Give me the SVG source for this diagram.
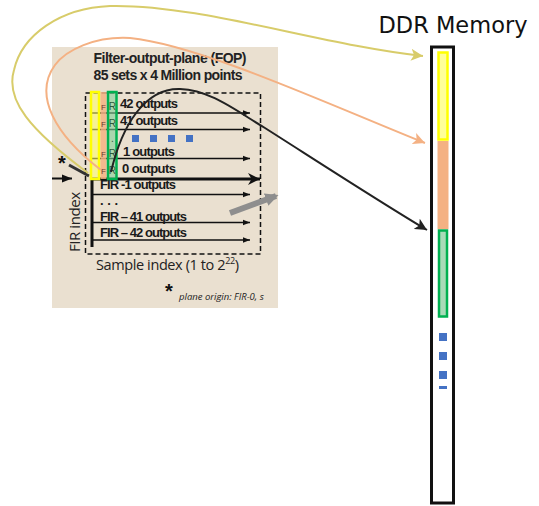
<svg xmlns="http://www.w3.org/2000/svg" width="539" height="506" viewBox="0 0 539 506">
<defs>
<style>
.lbl{font-family:"Liberation Sans",Arial,sans-serif;font-size:13px;font-weight:bold;fill:#1a1a1a}
.ttl{font-family:"Liberation Sans",Arial,sans-serif;font-size:14px;font-weight:bold;fill:#222}
.row{stroke:#111;stroke-width:1.4;fill:none}
.blue{fill:#4472c4}
</style>
<marker id="ah" viewBox="0 0 10 10" refX="10" refY="5" markerWidth="5" markerHeight="5" orient="auto" markerUnits="strokeWidth"><path d="M0,1 L10,5 L0,9 Z" fill="#111"/></marker>
<marker id="ahb" viewBox="0 0 10 10" refX="10" refY="5" markerWidth="4" markerHeight="4" orient="auto" markerUnits="strokeWidth"><path d="M0,0 L10,5 L0,10 L3,5 Z" fill="#111"/></marker>
<marker id="ahy" viewBox="0 0 10 10" refX="10" refY="5" markerWidth="6" markerHeight="6" orient="auto" markerUnits="strokeWidth"><path d="M0,0 L10,5 L0,10 L2.5,5 Z" fill="#d8cc6a"/></marker>
<marker id="aho" viewBox="0 0 10 10" refX="10" refY="5" markerWidth="6" markerHeight="6" orient="auto" markerUnits="strokeWidth"><path d="M0,0 L10,5 L0,10 L2.5,5 Z" fill="#f4b183"/></marker>
<marker id="ahk" viewBox="0 0 10 10" refX="10" refY="5" markerWidth="6" markerHeight="6" orient="auto" markerUnits="strokeWidth"><path d="M0,0 L10,5 L0,10 L2.5,5 Z" fill="#222"/></marker>
<marker id="ahg" viewBox="0 0 10 10" refX="8" refY="5" markerWidth="2.2" markerHeight="2.2" orient="auto" markerUnits="strokeWidth"><path d="M0,0 L10,5 L0,10 Z" fill="#8e8e8e"/></marker>
</defs>
<rect width="539" height="506" fill="#ffffff"/>

<g id="fop-panel">
<rect x="52" y="47" width="226" height="261" fill="#eae0d0"/>
<text x="170" y="63" text-anchor="middle" class="ttl" textLength="153">Filter-output-plane (FOP)</text>
<text x="168" y="80" text-anchor="middle" class="ttl" textLength="149">85 sets x 4 Million points</text>
<rect x="85.5" y="93" width="175" height="161" fill="none" stroke="#111" stroke-width="1.5" stroke-dasharray="5,3"/>
<line x1="92" y1="113" x2="250" y2="113" class="row" marker-end="url(#ah)"/>
<line x1="92" y1="129.5" x2="250" y2="129.5" class="row" marker-end="url(#ah)"/>
<line x1="92" y1="158.5" x2="250" y2="158.5" class="row" marker-end="url(#ah)"/>
<line x1="92" y1="179" x2="260" y2="179" stroke="#111" stroke-width="3" marker-end="url(#ahb)"/>
<line x1="92" y1="194.5" x2="250" y2="194.5" class="row" marker-end="url(#ah)"/>
<line x1="92" y1="222.5" x2="250" y2="222.5" class="row" marker-end="url(#ah)"/>
<line x1="92" y1="240" x2="250" y2="240" class="row" marker-end="url(#ah)"/>
<line x1="92" y1="178" x2="92" y2="247" stroke="#111" stroke-width="3"/>
<text x="120" y="108" class="lbl" textLength="58">42 outputs</text>
<text x="120" y="125" class="lbl" textLength="58">41 outputs</text>
<rect x="132" y="135" width="7" height="7" class="blue"/>
<rect x="150" y="135" width="7" height="7" class="blue"/>
<rect x="168" y="135" width="7" height="7" class="blue"/>
<rect x="186" y="135" width="7" height="7" class="blue"/>
<text x="123" y="156" class="lbl" textLength="52">1 outputs</text>
<text x="122" y="173" class="lbl" textLength="54">0 outputs</text>
<text x="100" y="189" class="lbl" textLength="76">FIR -1 outputs</text>
<text x="100" y="205" class="lbl">. . .</text>
<text x="100" y="221" class="lbl" textLength="87">FIR – 41 outputs</text>
<text x="100" y="237" class="lbl" textLength="87">FIR – 42 outputs</text>
<text transform="translate(80,222) rotate(-90)" text-anchor="middle" font-family="Open Sans,Liberation Sans,Arial,sans-serif" font-size="15" fill="#222" textLength="60">FIR index</text>
<text x="96" y="270" font-family="Open Sans,Liberation Sans,Arial,sans-serif" font-size="14.5" fill="#222" textLength="143">Sample index (1 to 2<tspan font-size="9" dy="-6">22</tspan><tspan dy="6">)</tspan></text>
<text x="62" y="170" text-anchor="middle" font-family="Liberation Sans,Arial,sans-serif" font-size="20" font-weight="bold" fill="#111">*</text>
<line x1="69" y1="165" x2="89" y2="176" stroke="#333" stroke-width="3"/>
<line x1="52" y1="178.5" x2="72" y2="178.5" stroke="#111" stroke-width="2" marker-end="url(#ah)"/>
<text x="169" y="298" text-anchor="middle" font-family="Liberation Sans,Arial,sans-serif" font-size="20" font-weight="bold" fill="#111">*</text>
<text x="179" y="300" font-family="Open Sans,Liberation Sans,Arial,sans-serif" font-size="9.5" font-style="italic" fill="#222">plane origin: FIR-0, s</text>
<line x1="230" y1="213" x2="276" y2="196" stroke="#8e8e8e" stroke-width="6" marker-end="url(#ahg)"/>
</g>

<g id="strips">
<rect x="91" y="92" width="8" height="87" fill="#ffff66" fill-opacity="0.55" stroke="#ffff00" stroke-width="2.5"/>
<rect x="100.5" y="92" width="6" height="87" fill="#f4b183" fill-opacity="0.85"/>
<rect x="108" y="92" width="8.5" height="87" fill="#7fcf98" fill-opacity="0.6" stroke="#00b050" stroke-width="2.5"/>
<g font-family="Liberation Sans,Arial,sans-serif" font-size="8" fill="#6a3a2a" text-anchor="middle">
<text x="103.5" y="110">F</text><text x="103.5" y="127">F</text><text x="103.5" y="157">F</text><text x="103.5" y="174">F</text>
</g>
<g font-family="Liberation Sans,Arial,sans-serif" font-size="10" fill="#2d5a3a" text-anchor="middle">
<text x="112.3" y="110">R</text><text x="112.3" y="127">R</text><text x="112.3" y="142">.</text><text x="112.3" y="157">R</text><text x="112.3" y="174">R</text>
</g>
</g>

<g id="ddr-memory">
<text x="453" y="33" text-anchor="middle" font-family="DejaVu Sans,sans-serif" font-size="22.5" fill="#111">DDR Memory</text>
<rect x="431.5" y="47" width="22" height="456" fill="#ffffff" stroke="#111" stroke-width="3"/>
<rect x="438.5" y="52.5" width="9" height="87" fill="#ffff99" stroke="#ffff00" stroke-width="2.5"/>
<rect x="437.5" y="141" width="11" height="88" fill="#f4b183"/>
<rect x="439" y="230.5" width="8" height="86" fill="#a9dbb8" stroke="#00b050" stroke-width="2.5"/>
<rect x="439" y="333" width="8" height="8" class="blue"/>
<rect x="439" y="352" width="8" height="8" class="blue"/>
<rect x="439" y="371" width="8" height="8" class="blue"/>
<rect x="439" y="386" width="8" height="3" class="blue"/>
</g>

<g id="connectors" fill="none">
<path d="M 88,173 C 30,130 5,100 14,70 C 22,35 60,8 110,6 C 200,4 320,45 423,56" stroke="#d8cc6a" stroke-width="2" marker-end="url(#ahy)"/>
<path d="M 101,170 C 55,135 33,95 55,65 C 66,50 95,36 130,38 C 200,45 330,105 425,143" stroke="#f4b183" stroke-width="2" marker-end="url(#aho)"/>
<path d="M 111,172 C 122,125 145,88 180,89 C 210,90 235,110 265,128 C 320,163 380,202 427,230" stroke="#222" stroke-width="2" marker-end="url(#ahk)"/>
</g>
</svg>
